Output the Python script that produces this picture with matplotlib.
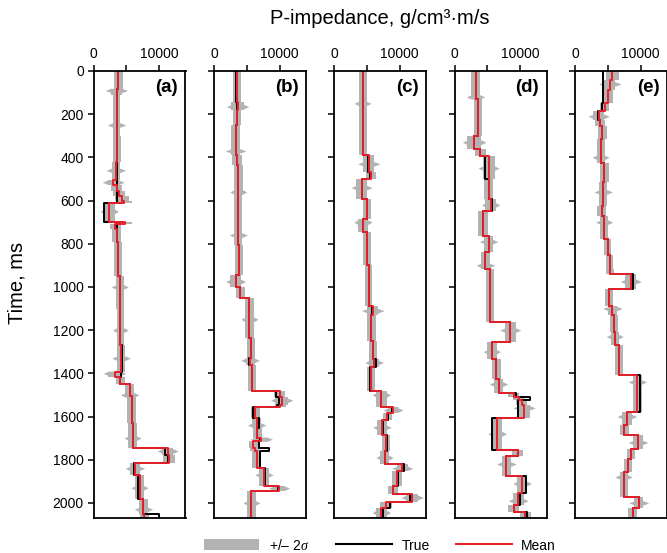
import bisect

import matplotlib
matplotlib.use('Agg')
import matplotlib.pyplot as plt
from matplotlib.lines import Line2D
from matplotlib.patches import Patch

plt.rcParams['font.family'] = ['Liberation Sans', 'DejaVu Sans']
plt.rcParams['mathtext.fontset'] = 'custom'
plt.rcParams['mathtext.it'] = 'Liberation Serif:italic'
plt.rcParams['mathtext.rm'] = 'Liberation Sans'

T_END = 2070  # ms, bottom of the logs

# (a) layer tops (ms), true impedance, inverted mean, 2-sigma half width
a_top = [0, 85, 110, 300, 420, 504, 530, 555, 580, 600, 612, 697, 710, 730, 790, 950, 1100,
         1270, 1395, 1415, 1448, 1505, 1630, 1745, 1780, 1815, 1870, 1980, 2052]
a_true = [3800, 3500, 3500, 3600, 3600, 3500, 3500, 3500, 3500, 3500, 1600, 3900, 3500, 3600, 3800, 4000, 4100,
          4300, 4200, 4100, 5500, 5800, 5950, 10900, 11400, 6100, 6800, 7500, 9900]
a_mean = [3800, 3500, 3500, 3600, 3400, 3000, 3500, 3900, 4300, 4700, 2400, 4800, 3300, 3500, 3700, 4000, 4100,
          4200, 3200, 4100, 5500, 5800, 5950, 11300, 11500, 6300, 7000, 7600, 7700]
a_sd = [650, 850, 600, 650, 650, 850, 850, 950, 1050, 1150, 850, 1050, 850, 650, 600, 600, 600,
        650, 950, 700, 700, 650, 650, 850, 850, 700, 650, 650, 700]
a_spikes = [(90, 1700), (250, 1400), (460, 1500), (515, 1700), (650, 1400), (1000, 1300), (1200, 1200),
            (1330, 1400), (1400, 1700), (1500, 1400), (1700, 1300), (1760, 1600), (1840, 1500),
            (1930, 1300), (2030, 1400)]

# (b)
b_top = [0, 143, 182, 250, 390, 435, 575, 805, 945, 1000, 1050, 1237, 1330, 1360, 1480,
         1510, 1545, 1558, 1607, 1653, 1700, 1715, 1745, 1760, 1837, 1920, 1945]
b_true = [3400, 3500, 3500, 3300, 3500, 3600, 3700, 3800, 3400, 3900, 5300, 5650, 5400, 5750, 9500,
          9900, 9600, 6000, 6800, 6500, 7000, 6800, 8300, 7000, 7800, 9800, 5600]
b_mean = [3500, 3600, 3500, 3300, 3500, 3700, 3700, 3800, 3300, 4000, 5400, 5650, 5500, 5800, 10000,
          10300, 10100, 6300, 6500, 6600, 7200, 6000, 6200, 6500, 7600, 9900, 5700]
b_sd = [600, 950, 650, 650, 700, 650, 600, 650, 850, 700, 700, 650, 700, 650, 850,
        950, 850, 700, 700, 650, 850, 700, 700, 700, 700, 850, 650]
b_spikes = [(165, 1700), (370, 1600), (560, 1300), (760, 1400), (975, 1500), (1150, 1300),
            (1340, 1400), (1525, 1700), (1640, 1400), (1705, 1700), (1870, 1400), (1932, 1600),
            (2000, 1300)]

# (c)
c_top = [0, 200, 390, 470, 500, 593, 685, 747, 900, 1086, 1132, 1250, 1333, 1371, 1480,
         1555, 1585, 1615, 1685, 1760, 1818, 1853, 1923, 1957, 1995, 2025]
c_true = [4350, 4450, 5200, 5450, 4300, 5050, 4450, 5050, 5250, 5850, 5700, 5950, 6450, 5550, 7200,
          8900, 8200, 7400, 8100, 7700, 10650, 9750, 9000, 11500, 8500, 7500]
c_mean = [4350, 4450, 5300, 5600, 4200, 5000, 4400, 5050, 5250, 5900, 5700, 5950, 6100, 5600, 7200,
          9000, 8100, 7300, 7900, 7700, 10400, 9600, 9000, 11900, 7900, 7200]
c_sd = [600, 600, 850, 800, 850, 650, 800, 600, 600, 850, 650, 650, 700, 650, 800,
        800, 700, 700, 650, 700, 800, 800, 800, 950, 900, 800]
c_spikes = [(150, 1300), (430, 1700), (540, 1600), (700, 1400), (1110, 1700), (1350, 1400),
            (1500, 1400), (1570, 1500), (1650, 1400), (1790, 1300), (1840, 1600), (1975, 1700),
            (2045, 1400)]

# (d)
d_top = [0, 130, 300, 362, 393, 500, 593, 647, 763, 840, 917, 1163, 1256, 1333, 1425,
         1490, 1510, 1525, 1545, 1606, 1753, 1785, 1876, 1955, 2008, 2040]
d_true = [3200, 3600, 3000, 3950, 4700, 5200, 5700, 4350, 5200, 4700, 5350, 8500, 5700, 6350, 6700,
          9400, 11500, 9600, 9600, 5700, 9700, 7800, 10900, 9900, 9000, 11100]
d_mean = [3200, 3600, 3000, 3950, 5200, 5200, 5500, 4350, 5200, 4700, 5350, 8500, 5700, 6350, 6700,
          9000, 9800, 10200, 10600, 6500, 9600, 7900, 10300, 9700, 9000, 10800]
d_sd = [650, 650, 1100, 800, 900, 700, 800, 700, 650, 700, 600, 850, 700, 700, 700,
        850, 850, 850, 850, 800, 800, 700, 800, 800, 800, 800]
d_spikes = [(120, 1400), (330, 1800), (450, 1600), (620, 1400), (790, 1400), (900, 1400),
            (1200, 1600), (1300, 1300), (1450, 1400), (1560, 1700), (1680, 1400), (1820, 1500),
            (1910, 1400), (1990, 1500)]

# (e)
e_top = [0, 40, 90, 150, 185, 225, 254, 316, 424, 516, 624, 670, 778, 850, 917, 940, 1010,
         1086, 1132, 1210, 1271, 1410, 1579, 1641, 1687, 1749, 1795, 1857, 1972, 2026]
e_true = [4200, 4200, 4200, 4100, 3500, 3800, 4150, 3900, 4450, 4300, 4050, 4450, 4950, 5250, 5350, 8750, 5200,
          5700, 5950, 6050, 6700, 9900, 7900, 7500, 9600, 8500, 8000, 7400, 9750, 8750]
e_mean = [5700, 5300, 5000, 4500, 3600, 3800, 4150, 3900, 4450, 4300, 4050, 4450, 4950, 5250, 5350, 8500, 5200,
          5700, 5950, 6050, 6700, 9500, 7900, 7500, 9600, 8500, 8000, 7400, 9700, 8750]
e_sd = [950, 850, 850, 700, 850, 700, 650, 600, 650, 600, 700, 600, 600, 600, 600, 850, 650,
        650, 650, 600, 600, 650, 700, 650, 700, 650, 600, 600, 700, 650]
e_spikes = [(60, 1700), (210, 1600), (400, 1300), (560, 1400), (700, 1300), (975, 1600),
            (1100, 1500), (1230, 1300), (1440, 1400), (1600, 1500), (1720, 1500), (1880, 1300),
            (2000, 1500)]

panels = [
    ('(a)', a_top, a_true, a_mean, a_sd, a_spikes),
    ('(b)', b_top, b_true, b_mean, b_sd, b_spikes),
    ('(c)', c_top, c_true, c_mean, c_sd, c_spikes),
    ('(d)', d_top, d_true, d_mean, d_sd, d_spikes),
    ('(e)', e_top, e_true, e_mean, e_sd, e_spikes),
]

x_ticks = [0, 5000, 10000]
x_tick_labels = ['0', '', '10000']
y_ticks = list(range(0, 2001, 200))

BAND = '#b3b3b3'
RED = '#e8202a'


def plot_panel(ax, label, top, true, mean, sd, spikes, show_y):
    depth = top + [T_END]
    lo = [m - s for m, s in zip(mean, sd)]
    hi = [m + s for m, s in zip(mean, sd)]
    ax.fill_betweenx(depth, lo + [lo[-1]], hi + [hi[-1]], step='post',
                     color=BAND, linewidth=0)

    # narrow flares of the uncertainty band
    for t, w in spikes:
        i = bisect.bisect_right(top, t) - 1
        m, s = mean[i], sd[i]
        ax.fill_betweenx([t - 10, t, t + 10], [m - s, m - w, m - s], [m + s, m + w, m + s],
                         color=BAND, linewidth=0)

    ax.plot(true + [true[-1]], depth, drawstyle='steps-pre', color='black', lw=1.4)
    ax.plot(mean + [mean[-1]], depth, drawstyle='steps-pre', color=RED, lw=1.4)

    ax.set_xlim(0, 14000)
    ax.set_ylim(T_END, 0)
    ax.xaxis.tick_top()
    ax.set_xticks(x_ticks)
    ax.set_xticklabels(x_tick_labels)
    ax.set_yticks(y_ticks)
    if not show_y:
        ax.set_yticklabels([])
    ax.tick_params(direction='out', length=4, width=1.1, labelsize=10, pad=3)
    for sp in ax.spines.values():
        sp.set_linewidth(1.3)
    ax.text(0.92, 0.982, label, transform=ax.transAxes, ha='right', va='top',
            fontsize=13.5, fontweight='bold')


def main() -> None:
    fig = plt.figure(figsize=(6.67, 5.53), dpi=100)
    lefts = [93.5, 214, 334, 454.5, 575]
    for i, (label, top, true, mean, sd, spikes) in enumerate(panels):
        ax = fig.add_axes([lefts[i] / 667, 1 - 518 / 553, 92 / 667, 447 / 553])
        plot_panel(ax, label, top, true, mean, sd, spikes, show_y=(i == 0))

    fig.text(380 / 667, 1 - 18 / 553, 'P-impedance, g/cm³·m/s', ha='center', va='center',
             fontsize=14.5)
    fig.text(17 / 667, 1 - 283 / 553, 'Time, ms', ha='center', va='center',
             rotation=90, fontsize=14.5)

    handles = [Patch(facecolor=BAND, edgecolor='none'),
               Line2D([], [], color='black', lw=1.5),
               Line2D([], [], color=RED, lw=1.5)]
    labels = ['+/\u2013 2$\\sigma$', 'True', 'Mean']
    fig.legend(handles, labels, loc='center', bbox_to_anchor=(380 / 667, 1 - 545 / 553),
               ncol=3, frameon=False, fontsize=10, handlelength=4, handleheight=0.8,
               handletextpad=0.7, columnspacing=1.9, borderpad=0, borderaxespad=0)

    fig.savefig('out.png', dpi=100)


if __name__ == '__main__':
    main()
